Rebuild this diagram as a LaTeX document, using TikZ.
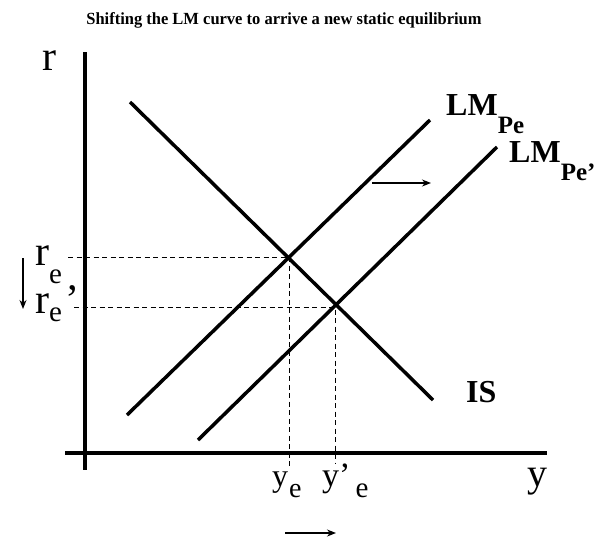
\documentclass[tikz,border=0pt]{standalone}
\usepackage{fontspec}
\setmainfont{Liberation Serif}
\usetikzlibrary{arrows.meta}
\newcommand{\fs}[1]{\fontsize{#1}{#1}\selectfont}
\newcommand{\lowsub}[3]{\raisebox{-#1pt}{\fs{#2}#3}}
\begin{document}
\begin{tikzpicture}[x=1pt,y=-1pt,
  axis/.style={line width=3.5pt},
  curve/.style={line width=3.5pt},
  guide/.style={line width=0.9pt,dash pattern=on 5pt off 3.5pt},
  shiftarrow/.style={line width=1.3pt,-{Stealth[length=9pt,width=7pt]}},
  txt/.style={inner sep=0pt,anchor=base west},
  lab/.style={font=\fs{32}\bfseries,inner sep=0pt,anchor=base west}]
\useasboundingbox (0,0) rectangle (597,539);
% title
\node[font=\fs{17}\bfseries,inner sep=0pt,anchor=base,xscale=0.97] (title) at (284,24) {Shifting the LM curve to arrive a new static equilibrium};
% axes
\coordinate (ytop) at (85,52);
\coordinate (ybot) at (85,470);
\coordinate (xl) at (65,453);
\coordinate (xr) at (547,453);
\draw[axis] (ytop) -- (ybot);
\draw[axis] (xl) -- (xr);
\node[txt,font=\fs{42}] (rlab) at (42,70) {r};
\node[txt,font=\fs{40}] (ylab) at (527,486) {y};
% curves
\coordinate (is1) at (130,102);
\coordinate (is2) at (433,400);
\coordinate (lm1a) at (127,415);
\coordinate (lm1b) at (430,120);
\coordinate (lm2a) at (198,440);
\coordinate (lm2b) at (497,147);
\draw[curve] (is1) -- (is2);
\draw[curve] (lm1a) -- (lm1b);
\draw[curve] (lm2a) -- (lm2b);
\node[lab] (lmpe) at (446,115) {LM\lowsub{18}{25}{Pe}};
\node[lab] (lmpep) at (509,162) {LM\lowsub{18}{25}{Pe’}};
\node[lab] (islab) at (466,402) {IS};
% equilibria
\coordinate (e1) at (289,257);
\coordinate (e2) at (335,307);
\coordinate (e1l) at (68,257);
\coordinate (e2l) at (74,307);
\coordinate (e1b) at (289,466);
\coordinate (e2b) at (335,464);
\draw[guide] (e1l) -- (e1) -- (e1b);
\draw[guide] (e2l) -- (e2) -- (e2b);
% labels
\node[txt,font=\fs{42}] (re) at (35,265) {r\lowsub{18}{29}{e}};
\node[txt,font=\fs{42}] (rep) at (35,313) {r\lowsub{8}{29}{e}\hspace{3pt}’};
\node[txt,font=\fs{32}] (ye) at (272,486) {y\hspace{1pt}\lowsub{11}{28}{e}};
\node[txt,font=\fs{34}] (yep) at (322,486) {y’\hspace{5pt}\lowsub{11}{29}{e}};
% shift arrows
\coordinate (da1) at (23,258);
\coordinate (da2) at (23,309);
\draw[shiftarrow] (da1) -- (da2);
\coordinate (ba1) at (285,533);
\coordinate (ba2) at (336,533);
\draw[shiftarrow] (ba1) -- (ba2);
\coordinate (ma1) at (372,183);
\coordinate (ma2) at (431,183);
\draw[shiftarrow] (ma1) -- (ma2);
\end{tikzpicture}
\end{document}
